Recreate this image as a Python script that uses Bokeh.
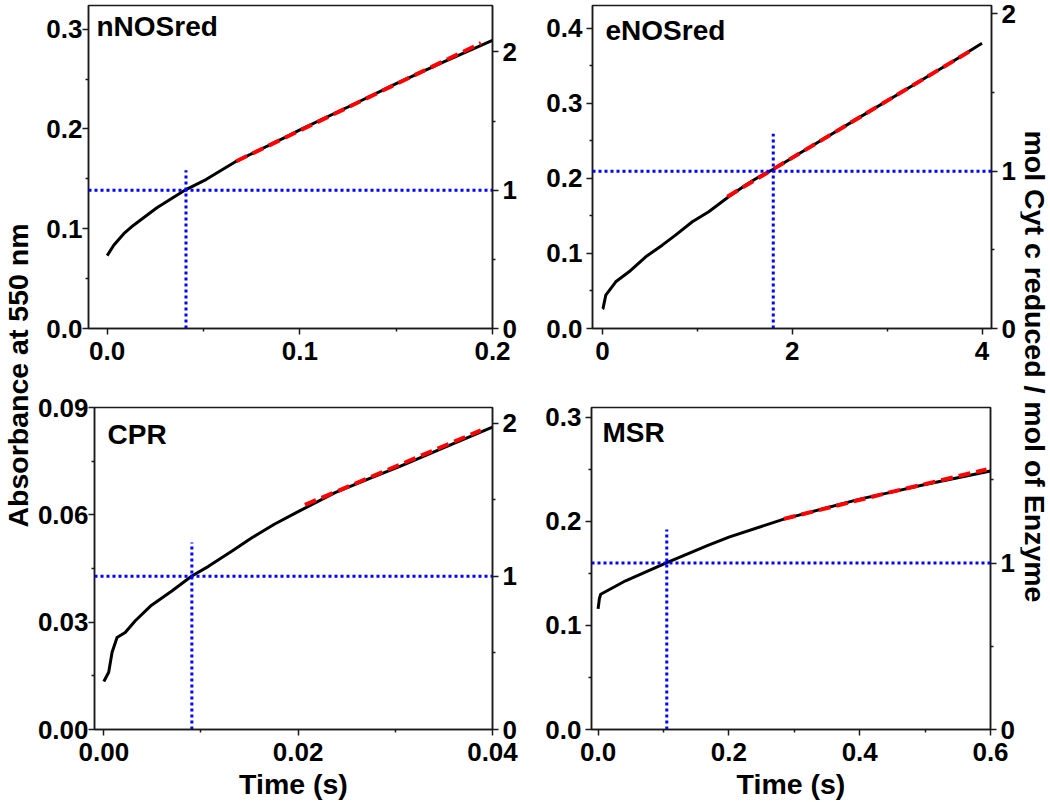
import math
from bokeh.plotting import figure
from bokeh.models import (Range1d, LinearAxis, FixedTicker, NumeralTickFormatter,
                          Span, Label)
from bokeh.layouts import row, column
from bokeh.embed import file_html
from bokeh.resources import INLINE

FONT = "Liberation Sans"

# ---------------- data ----------------
panel_names = ["nNOSred", "eNOSred", "CPR", "MSR"]

nnos_t = [0.0, 0.0034, 0.0086, 0.0137, 0.0258, 0.0409, 0.0515, 0.067, 0.0945, 0.1, 0.125, 0.15, 0.175, 0.2]
nnos_a = [0.073, 0.0835, 0.095, 0.1035, 0.121, 0.1392, 0.1495, 0.1676, 0.1935, 0.199, 0.222, 0.2455, 0.2675, 0.2888]
nnos_fit_t = [0.067, 0.194]
nnos_fit_a = [0.1676, 0.2860]

enos_t = [0.0, 0.006, 0.035, 0.14, 0.28, 0.456, 0.63, 0.77, 0.947, 1.12, 1.33, 1.51, 1.65, 1.806, 2.105, 2.4, 2.7, 3.05, 3.4, 3.7, 4.0]
enos_a = [0.026, 0.0267, 0.0444, 0.0622, 0.0755, 0.0955, 0.111, 0.1244, 0.1422, 0.1555, 0.1755, 0.191, 0.202, 0.2124, 0.2355, 0.2578, 0.2805, 0.307, 0.3336, 0.3563, 0.380]
enos_fit_t = [1.316, 3.895]
enos_fit_a = [0.1756, 0.3711]

cpr_t = [0.0, 0.0005, 0.00085, 0.00136, 0.0022, 0.00324, 0.0048, 0.007, 0.00906, 0.01077, 0.01316, 0.0152, 0.0175, 0.02, 0.0238, 0.0275, 0.0306, 0.035, 0.04]
cpr_a = [0.0134, 0.016, 0.0216, 0.0257, 0.0271, 0.0304, 0.0345, 0.0387, 0.0429, 0.0456, 0.0498, 0.0535, 0.0573, 0.0609, 0.0662, 0.0703, 0.0737, 0.0788, 0.0845]
cpr_fit_t = [0.0207, 0.0388]
cpr_fit_a = [0.0628, 0.0836]

msr_t = [0.0, 0.002, 0.004, 0.0245, 0.042, 0.106, 0.167, 0.2, 0.284, 0.4, 0.447, 0.5, 0.6]
msr_a = [0.116, 0.126, 0.130, 0.137, 0.143, 0.1607, 0.1767, 0.1850, 0.2023, 0.2215, 0.228, 0.2355, 0.2486]
msr_fit_t = [0.284, 0.447, 0.594]
msr_fit_a = [0.2025, 0.2282, 0.2500]

# absorbance equal to 1 mol Cyt c reduced per mol enzyme (right axis scale)
one_mol_abs = [0.1386, 0.2096, 0.0428, 0.16]
# time at which 1 mol is reduced, and top of the vertical dotted marker
cross_t = [0.0409, 1.80, 0.00906, 0.105]
cross_top = [0.1587, 0.2595, 0.0523, 0.1922]

# axis ranges and ticks
x_ranges = [(-0.0097, 0.2), (-0.105, 4.1), (-0.00096, 0.04), (-0.0101, 0.6)]
y_ranges = [(0.0, 0.3237), (0.0, 0.4302), (0.0, 0.09), (0.0, 0.3096)]
x_major = [[0.0, 0.1, 0.2], [0, 2, 4], [0.0, 0.02, 0.04], [0.0, 0.2, 0.4, 0.6]]
x_minor = [[0.05, 0.15], [1, 3], [0.01, 0.03], [0.1, 0.3, 0.5]]
y_major = [[0.0, 0.1, 0.2, 0.3], [0.0, 0.1, 0.2, 0.3, 0.4], [0.0, 0.03, 0.06, 0.09], [0.0, 0.1, 0.2, 0.3]]
y_minor = [[0.05, 0.15, 0.25], [0.05, 0.15, 0.25, 0.35], [0.015, 0.045, 0.075], [0.05, 0.15, 0.25]]
x_fmt = ["0.0", "0", "0.00", "0.0"]
y_fmt = ["0.0", "0.0", "0.00", "0.0"]
mol_major = [0, 1, 2]
mol_minor = [0.5, 1.5]

x_title = "Time (s)"
left_title = "Absorbance at 550 nm"
right_title = "mol Cyt c reduced / mol of Enzyme"

series_t = [nnos_t, enos_t, cpr_t, msr_t]
series_a = [nnos_a, enos_a, cpr_a, msr_a]
fit_t = [nnos_fit_t, enos_fit_t, cpr_fit_t, msr_fit_t]
fit_a = [nnos_fit_a, enos_fit_a, cpr_fit_a, msr_fit_a]

# ---------------- layout (pixels) ----------------
# width, height, border left/right/top/bottom, panel label offset (x from frame left,
# baseline below frame top), left tick-label standoff, show "Time (s)"
layout_px = [
    (506, 390, 54, 48, 3, 59, 8, 34, 0, False),
    (480, 390, 52, 29, 5, 62, 13, 33, 4, False),
    (506, 412, 58, 48, 17, 71, 13, 37, 0, True),
    (480, 412, 51, 30, 17, 71, 11, 35, 4, True),
]
LEFT_W = 34
RIGHT_W = 30
PAGE_H = 802
LABEL_FIX = 8          # screen-unit labels come out this much lower than asked
AX_COLOR = "#1a1a1a"
TICK_FS = "26px"
TITLE_FS = "28.5px"
PANEL_FS = "28px"


def style_axis(ax, ticks, minor, fmt, standoff):
    ax.ticker = FixedTicker(ticks=ticks, minor_ticks=minor)
    ax.formatter = NumeralTickFormatter(format=fmt)
    ax.major_tick_out = 6
    ax.major_tick_in = 0
    ax.minor_tick_out = 3
    ax.minor_tick_in = 0
    ax.axis_line_width = 1.5
    ax.axis_line_color = AX_COLOR
    ax.major_tick_line_width = 1.5
    ax.major_tick_line_color = AX_COLOR
    ax.minor_tick_line_width = 1.5
    ax.minor_tick_line_color = AX_COLOR
    ax.major_label_text_font = FONT
    ax.major_label_text_font_style = "bold"
    ax.major_label_text_font_size = TICK_FS
    ax.major_label_text_color = "black"
    ax.major_label_standoff = standoff


def make_panel(i):
    w, h, bl, br, bt, bb, lx, ly, ysoff, show_title = layout_px[i]
    p = figure(width=w, height=h, x_range=Range1d(*x_ranges[i]), y_range=Range1d(*y_ranges[i]),
               output_backend="svg", toolbar_location=None,
               min_border_left=bl, min_border_right=br, min_border_top=bt, min_border_bottom=bb)
    p.xgrid.visible = False
    p.ygrid.visible = False
    p.outline_line_color = AX_COLOR
    p.outline_line_width = 1.5
    p.background_fill_color = "white"
    p.border_fill_color = "white"

    xax = p.xaxis[0]
    style_axis(xax, x_major[i], x_minor[i], x_fmt[i], 7)
    style_axis(p.yaxis[0], y_major[i], y_minor[i], y_fmt[i], ysoff)
    if show_title:
        xax.axis_label = x_title
        xax.axis_label_text_font = FONT
        xax.axis_label_text_font_style = "bold"
        xax.axis_label_text_font_size = TITLE_FS
        xax.axis_label_text_color = "black"
        xax.axis_label_standoff = 4

    p.extra_y_ranges = {"mol": Range1d(0, y_ranges[i][1] / one_mol_abs[i])}
    rax = LinearAxis(y_range_name="mol")
    style_axis(rax, mol_major, mol_minor, "0", 4)
    p.add_layout(rax, "right")

    # data curve
    p.line(series_t[i], series_a[i], line_color="black", line_width=3, line_join="round")
    # linear fit
    p.line(fit_t[i], fit_a[i], line_color="#ff0000", line_width=4, line_dash="12 6")
    # dotted markers
    p.add_layout(Span(location=one_mol_abs[i], dimension="width", line_color="#0000ff",
                      line_width=3, line_dash="3 3"))
    p.segment(x0=[cross_t[i]], y0=[0.0], x1=[cross_t[i]], y1=[cross_top[i]],
              line_color="#0000ff", line_width=3, line_dash="3 3")

    frame_h = h - bt - bb
    p.add_layout(Label(x=lx, y=frame_h - ly + LABEL_FIX, x_units="screen", y_units="screen",
                       text=panel_names[i], text_font=FONT, text_font_style="bold",
                       text_font_size=PANEL_FS, text_color="black", text_baseline="alphabetic"))
    return p


def text_fig(width, height, x, y, text, angle):
    f = figure(width=width, height=height, x_range=Range1d(0, width), y_range=Range1d(0, height),
               output_backend="svg", toolbar_location=None, x_axis_location=None, y_axis_location=None,
               min_border_left=0, min_border_right=0, min_border_top=0, min_border_bottom=0)
    f.xgrid.visible = False
    f.ygrid.visible = False
    f.outline_line_color = None
    f.add_layout(Label(x=x, y=y, text=text, angle=angle, text_font=FONT, text_font_style="bold",
                       text_font_size=TITLE_FS, text_color="black", text_align="center",
                       text_baseline="middle"))
    return f


p1 = make_panel(0)
p2 = make_panel(1)
p3 = make_panel(2)
p4 = make_panel(3)

left = text_fig(LEFT_W, PAGE_H, 17, PAGE_H - 375, left_title, math.pi / 2)
right = text_fig(RIGHT_W, PAGE_H, 14.5, PAGE_H - 366, right_title, -math.pi / 2)

grid = column(row(p1, p2, spacing=0), row(p3, p4, spacing=0), spacing=0)
page = row(left, grid, right, spacing=0)

open("out.html", "w").write(file_html(page, INLINE))
